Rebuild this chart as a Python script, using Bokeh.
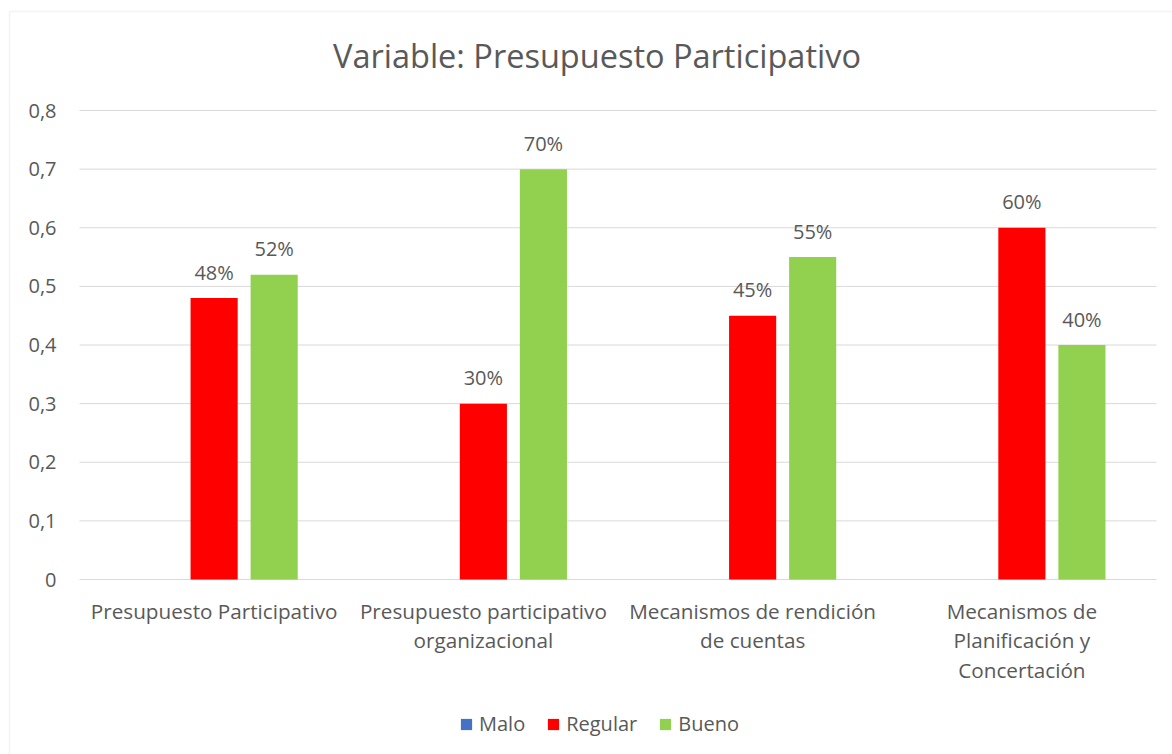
from bokeh.plotting import figure
from bokeh.models import (Range1d, Legend, LegendItem, BoxAnnotation)
from bokeh.core.properties import value
from bokeh.embed import file_html
from bokeh.resources import INLINE

# ---- data ----
categories = ["Presupuesto Participativo",
              "Presupuesto participativo organizacional",
              "Mecanismos de rendición de cuentas",
              "Mecanismos de Planificación y Concertación"]
category_label_lines = [["Presupuesto Participativo"],
                        ["Presupuesto participativo", "organizacional"],
                        ["Mecanismos de rendición", "de cuentas"],
                        ["Mecanismos de", "Planificación y", "Concertación"]]
series_names = ["Malo", "Regular", "Bueno"]
malo = [0.0, 0.0, 0.0, 0.0]
regular = [0.48, 0.30, 0.45, 0.60]
bueno = [0.52, 0.70, 0.55, 0.40]
y_ticks = [0.0, 0.1, 0.2, 0.3, 0.4, 0.5, 0.6, 0.7, 0.8]
y_tick_labels = ["0", "0,1", "0,2", "0,3", "0,4", "0,5", "0,6", "0,7", "0,8"]
title_text = "Variable: Presupuesto Participativo"

FONT = "Open Sans"
FS = "20px"
TXT = "#595959"
GRID = "#D9D9D9"
colors = ["#4472C4", "#FF0000", "#92D050"]

# ---- layout (pixels) ----
W, H = 1172, 754
PL, PR, PT, PB = 79, 16, 110, 579          # plot-area edges in canvas pixels
n = len(categories)
px_per_cat = (W - PR - PL) / n
ymax = y_ticks[-1]
px_per_unit = (PB - PT) / ymax

x_range = Range1d(-PL / px_per_cat, n + PR / px_per_cat)
y_range = Range1d(-(H - PB) / px_per_unit, ymax + PT / px_per_unit)

p = figure(width=W, height=H, x_range=x_range, y_range=y_range,
           output_backend="svg", toolbar_location=None,
           x_axis_location=None, y_axis_location=None,
           min_border=0)
p.outline_line_color = None
p.grid.visible = False
p.background_fill_color = "white"
p.border_fill_color = "white"

centers = [i + 0.5 for i in range(n)]

# gridlines
p.segment(x0=[0] * len(y_ticks), x1=[n] * len(y_ticks), y0=y_ticks, y1=y_ticks,
          line_color=GRID, line_width=1)

# y tick labels
p.text(x=[0] * len(y_ticks), y=y_ticks, text=y_tick_labels, x_offset=-23,
       text_align="right", text_baseline="middle",
       text_font=value(FONT), text_font_size=FS, text_color=TXT)

# bars
offsets = [-0.223, 0.0, 0.223]
bw = 0.175
renderers = []
for vals, col, off in zip([malo, regular, bueno], colors, offsets):
    r = p.vbar(x=[c + off for c in centers], top=vals, bottom=0, width=bw,
               fill_color=col, line_color=None)
    renderers.append(r)

# data labels (non-zero series)
for vals, off in [(regular, 0.0), (bueno, 0.223)]:
    p.text(x=[c + off for c in centers], y=vals,
           text=[f"{round(v * 100)}%" for v in vals],
           text_align="center", text_baseline="middle", y_offset=-26,
           text_font=value(FONT), text_font_size=FS, text_color=TXT)

# category labels (multi-line)
xl_x, xl_txt, xl_off = [], [], []
for c, lines in zip(centers, category_label_lines):
    for i, t in enumerate(lines):
        xl_x.append(c)
        xl_txt.append(t)
        xl_off.append(31 + 29.5 * i)
p.text(x=xl_x, y=[0] * len(xl_x), text=xl_txt, y_offset=xl_off,
       text_align="center", text_baseline="middle",
       text_font=value(FONT), text_font_size="20.7px", text_color=TXT)

# title
p.text(x=[n / 2], y=[ymax], text=[title_text], y_offset=-55, x_offset=-21,
       text_align="center", text_baseline="middle",
       text_font=value(FONT), text_font_size="32.5px", text_color=TXT)

# legend
legend = Legend(items=[LegendItem(label=s, renderers=[r]) for s, r in zip(series_names, renderers)],
                orientation="horizontal", location=(459, 17),
                glyph_width=14, glyph_height=14, label_standoff=6, spacing=21,
                padding=0, margin=0, border_line_color=None, background_fill_alpha=0,
                label_text_font=FONT, label_text_font_size=FS, label_text_color=TXT)
p.add_layout(legend, "center")

# chart border (left and top edges visible)
p.add_layout(BoxAnnotation(left=9, right=W + 20, top=11, bottom=H + 20,
                           left_units="canvas", right_units="canvas",
                           top_units="canvas", bottom_units="canvas",
                           fill_alpha=0, line_color=GRID, line_width=1.5))

open("out.html", "w").write(file_html(p, INLINE))
